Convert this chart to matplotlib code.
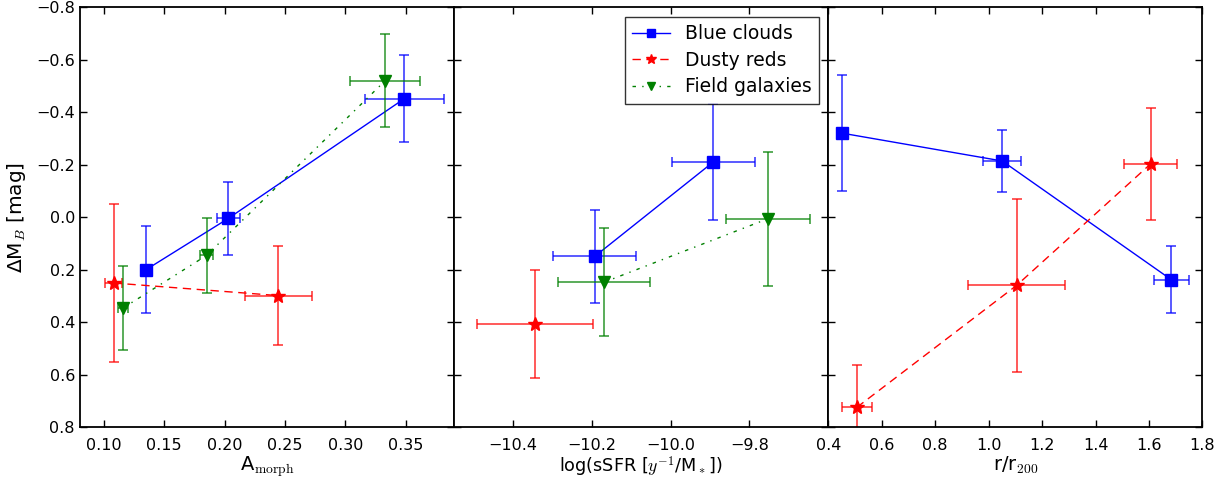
"""Absolute-magnitude offset versus morphology, sSFR and cluster-centric radius."""

import matplotlib
matplotlib.use("Agg")
import matplotlib.pyplot as plt

plt.rcParams["mathtext.fontset"] = "cm"
plt.rcParams["font.family"] = "DejaVu Sans"
plt.rcParams["font.size"] = 10

# --- panel 1: asymmetry A_morph
amorph_blue = [0.135, 0.203, 0.349]
amorph_blue_xerr = [0.0, 0.0095, 0.033]
dmag_amorph_blue = [0.20, 0.005, -0.452]
dmag_amorph_blue_err = [0.167, 0.14, 0.165]

amorph_red = [0.108, 0.2445]
amorph_red_xerr = [0.007, 0.028]
dmag_amorph_red = [0.251, 0.299]
dmag_amorph_red_err = [0.30, 0.19]

amorph_field = [0.116, 0.185, 0.333]
amorph_field_xerr = [0.004, 0.005, 0.029]
dmag_amorph_field = [0.346, 0.146, -0.52]
dmag_amorph_field_err = [0.16, 0.144, 0.177]

# --- panel 2: specific star formation rate
ssfr_blue = [-10.193, -9.892]
ssfr_blue_xerr = [0.105, 0.105]
dmag_ssfr_blue = [0.150, -0.210]
dmag_ssfr_blue_err = [0.178, 0.221]

ssfr_red = [-10.344]
ssfr_red_xerr = [0.148]
dmag_ssfr_red = [0.408]
dmag_ssfr_red_err = [0.205]

ssfr_field = [-10.169, -9.753]
ssfr_field_xerr = [0.117, 0.107]
dmag_ssfr_field = [0.248, 0.006]
dmag_ssfr_field_err = [0.206, 0.255]

# --- panel 3: cluster-centric radius
radius_blue = [0.452, 1.051, 1.683]
radius_blue_xerr = [0.0, 0.071, 0.065]
dmag_radius_blue = [-0.320, -0.214, 0.238]
dmag_radius_blue_err = [0.222, 0.12, 0.127]

radius_red = [0.507, 1.105, 1.606]
radius_red_xerr = [0.056, 0.181, 0.098]
dmag_radius_red = [0.725, 0.260, -0.203]
dmag_radius_red_err = [0.16, 0.33, 0.213]

YTICKS = [-0.8, -0.6, -0.4, -0.2, 0.0, 0.2, 0.4, 0.6, 0.8]

STYLES = {
    "blue": dict(color="blue", marker="s", dashes=(), ms=9, label="Blue clouds"),
    "red": dict(color="red", marker="*", dashes=(6, 4), ms=10, label="Dusty reds"),
    "field": dict(color="green", marker="v", dashes=(2.5, 4.5, 1, 4.5), ms=8.5,
                  label="Field galaxies"),
}


def draw(ax, kind, x, xerr, y, yerr):
    st = STYLES[kind]
    ax.errorbar(x, y, xerr=xerr, yerr=yerr, fmt="none", ecolor=st["color"],
                elinewidth=1.3, capsize=3.5, capthick=1.3, alpha=0.7)
    line, = ax.plot(x, y, color=st["color"], lw=1.0, marker=st["marker"],
                    ms=st["ms"], mec=st["color"], label=st["label"])
    if st["dashes"]:
        line.set_dashes(st["dashes"])


fig, axes = plt.subplots(1, 3, figsize=(12.27, 4.82), dpi=100, sharey=True)
fig.subplots_adjust(left=0.065, right=0.98, top=0.985, bottom=0.114, wspace=0)
ax1, ax2, ax3 = axes

draw(ax1, "blue", amorph_blue, amorph_blue_xerr, dmag_amorph_blue, dmag_amorph_blue_err)
draw(ax1, "red", amorph_red, amorph_red_xerr, dmag_amorph_red, dmag_amorph_red_err)
draw(ax1, "field", amorph_field, amorph_field_xerr, dmag_amorph_field, dmag_amorph_field_err)

draw(ax2, "blue", ssfr_blue, ssfr_blue_xerr, dmag_ssfr_blue, dmag_ssfr_blue_err)
draw(ax2, "red", ssfr_red, ssfr_red_xerr, dmag_ssfr_red, dmag_ssfr_red_err)
draw(ax2, "field", ssfr_field, ssfr_field_xerr, dmag_ssfr_field, dmag_ssfr_field_err)

draw(ax3, "blue", radius_blue, radius_blue_xerr, dmag_radius_blue, dmag_radius_blue_err)
draw(ax3, "red", radius_red, radius_red_xerr, dmag_radius_red, dmag_radius_red_err)

ax1.set_xlim(0.08, 0.39)
ax1.set_xticks([0.10, 0.15, 0.20, 0.25, 0.30, 0.35])
ax1.set_xticklabels(["0.10", "0.15", "0.20", "0.25", "0.30", "0.35"])
ax2.set_xlim(-10.55, -9.6)
ax2.set_xticks([-10.4, -10.2, -10.0, -9.8])
ax3.set_xlim(0.4, 1.8)
ax3.set_xticks([0.4, 0.6, 0.8, 1.0, 1.2, 1.4, 1.6, 1.8])

ax1.set_ylim(0.8, -0.8)
ax1.set_yticks(YTICKS)
ax1.set_ylabel(r"ΔM$_B$ [mag]", fontsize=14.5, labelpad=6)

ax1.set_xlabel(r"A$_{\rm morph}$", fontsize=14, labelpad=1)
ax2.set_xlabel(r"log(sSFR [$y^{-1}$/M$_*$])", fontsize=12.7, labelpad=1)
ax3.set_xlabel(r"r/r$_{200}$", fontsize=14, labelpad=1)

for ax in axes:
    ax.tick_params(direction="in", top=True, right=True, length=5, width=1,
                   labelsize=11.5)
    ax.tick_params(axis="x", pad=8)
    for sp in ax.spines.values():
        sp.set_linewidth(1.3)
for ax in (ax2, ax3):
    ax.tick_params(labelleft=False)

leg = ax2.legend(loc="upper right", fontsize=13.5, fancybox=False, numpoints=1,
                 handlelength=2.0, markerscale=0.7, borderaxespad=0.5,
                 handletextpad=0.8, labelspacing=0.4)
leg.get_frame().set_edgecolor("black")
leg.get_frame().set_linewidth(1.0)

fig.savefig("out.png", dpi=100)
